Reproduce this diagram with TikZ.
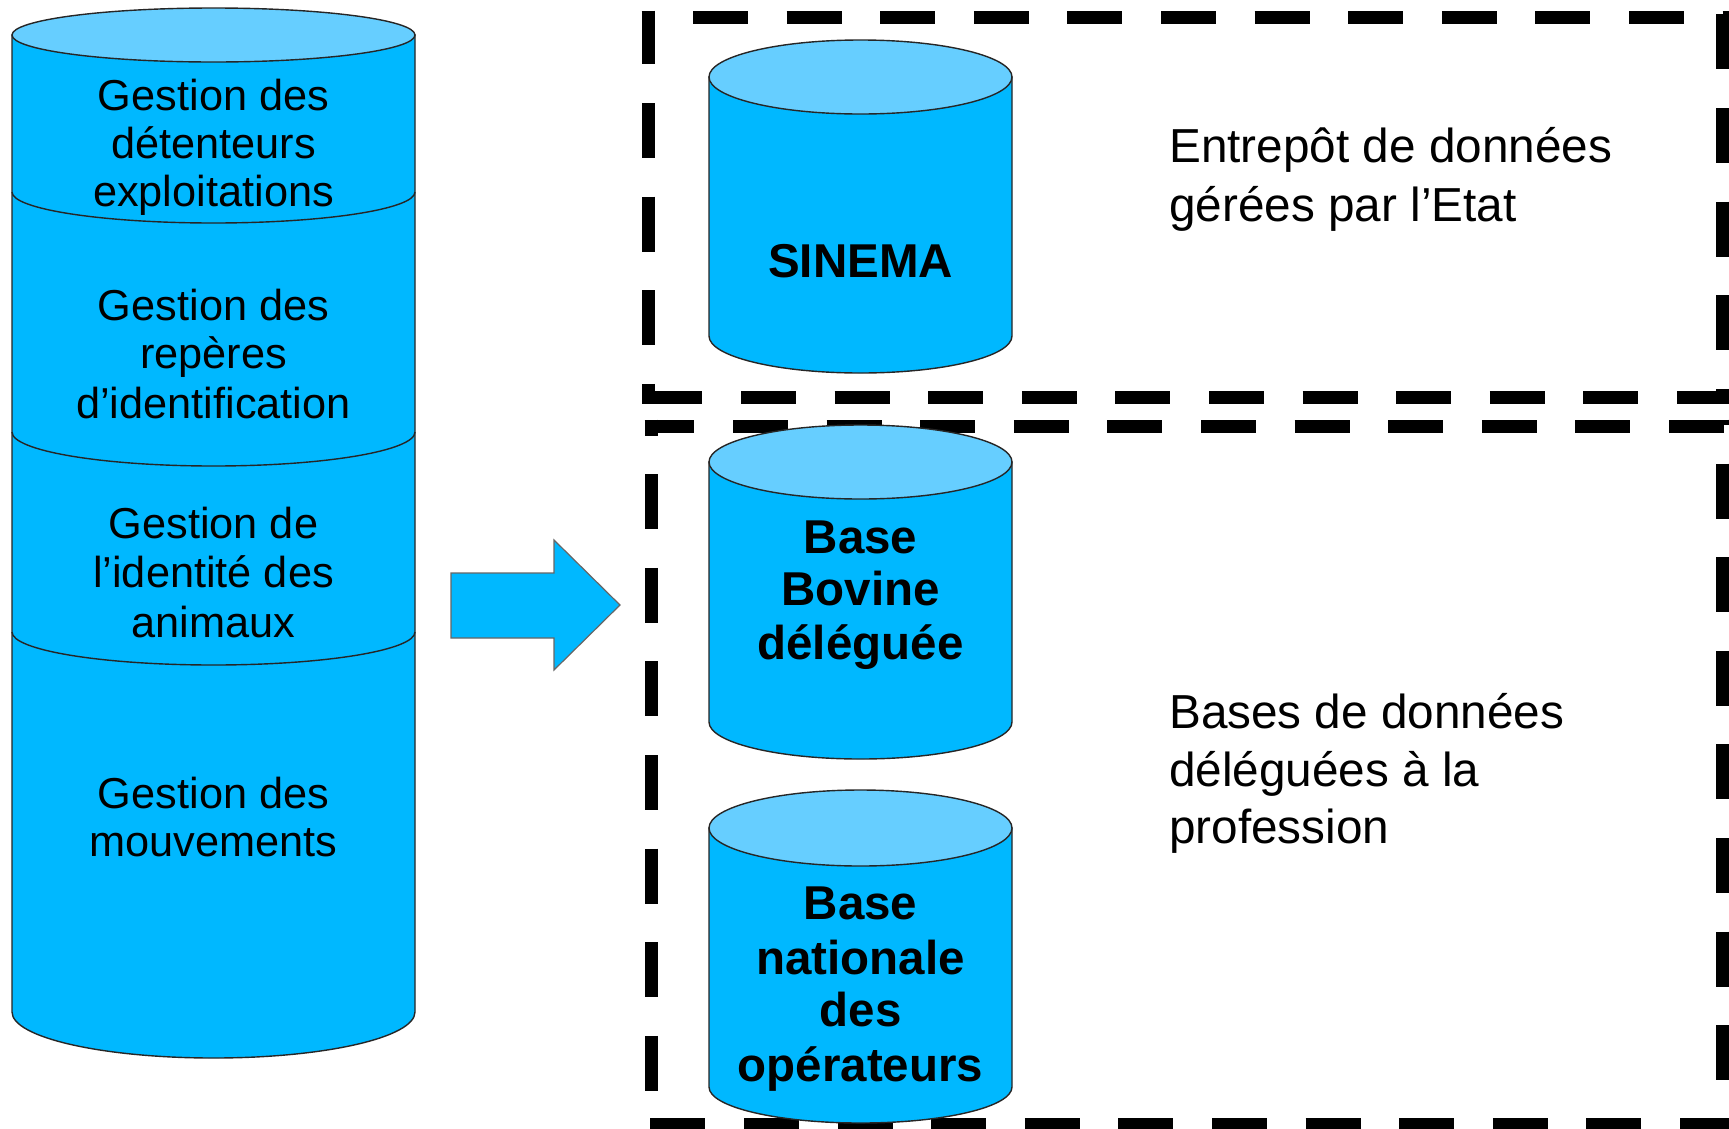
\documentclass[tikz,border=0pt]{standalone}
\usepackage{fontspec}
\setmainfont{Liberation Sans}
\definecolor{cylbody}{RGB}{0,184,255}
\definecolor{cyltop}{RGB}{102,206,255}
\tikzset{
  outl/.style={draw=black!85, line width=1.4pt},
  arrowoutl/.style={draw=black!60, line width=1.2pt},
  boxedge/.style={draw=black, line width=13pt, line cap=butt},
  lbl/.style={inner sep=0pt, anchor=base, font=\fontsize{43.3}{48}\selectfont},
  blbl/.style={inner sep=0pt, anchor=base, font=\fontsize{47.5}{53}\selectfont\bfseries},
  side/.style={inner sep=0pt, anchor=base west, font=\fontsize{47.7}{58}\selectfont},
}
% #1 x1, #2 x2, #3 centre y of top ellipse, #4 centre y of bottom ellipse, #5 ry top, #6 ry bottom
\newcommand{\mycyl}[6]{%
  \filldraw[outl, fill=cylbody] (#1,#3) -- (#1,#4)
    .. controls (#1,{#4+0.5523*#6}) and ({(#1+#2)/2-0.5523*(#2-#1)/2},{#4+#6}) .. ({(#1+#2)/2},{#4+#6})
    .. controls ({(#1+#2)/2+0.5523*(#2-#1)/2},{#4+#6}) and (#2,{#4+0.5523*#6}) .. (#2,#4)
    -- (#2,#3) -- cycle;
  \filldraw[outl, fill=cyltop] ({(#1+#2)/2},#3) ellipse [x radius={(#2-#1)/2}, y radius=#5];
}
% lower half-ellipse divider: #1 x1, #2 x2, #3 centre y, #4 ry
\newcommand{\mydiv}[4]{%
  \draw[outl] (#1,#3)
    .. controls (#1,{#3+0.5523*#4}) and ({(#1+#2)/2-0.5523*(#2-#1)/2},{#3+#4}) .. ({(#1+#2)/2},{#3+#4})
    .. controls ({(#1+#2)/2+0.5523*(#2-#1)/2},{#3+#4}) and (#2,{#3+0.5523*#4}) .. (#2,#3);
}
\begin{document}
\begin{tikzpicture}[x=1pt, y=-1pt]
\clip (0,0) rectangle (1729,1128);
\fill[white] (0,0) rectangle (1729,1128);

% dashed boxes (top box)
\draw[boxedge, dash pattern=on 55pt off 38.6pt, dash phase=42.1pt] (641.5,17) -- (1728.5,17);
\draw[boxedge, dash pattern=on 55pt off 38.6pt, dash phase=1.1pt] (648,10.5) -- (648,403.5);
\draw[boxedge, dash pattern=on 55pt off 38.6pt, dash phase=87.7pt] (641.5,397) -- (1728.5,397);
\draw[boxedge, dash pattern=on 55pt off 38.6pt, dash phase=89.7pt] (1722,10.5) -- (1722,403.5);
% dashed boxes (bottom box)
\draw[boxedge, dash pattern=on 55pt off 38.6pt, dash phase=5.1pt] (644.5,426) -- (1728.5,426);
\draw[boxedge, dash pattern=on 55pt off 38.6pt, dash phase=38.9pt] (651,419.5) -- (651,1130);
\draw[boxedge, dash pattern=on 55pt off 38.6pt, dash phase=87.7pt] (644.5,1124) -- (1728.5,1124);
\draw[boxedge, dash pattern=on 55pt off 38.6pt, dash phase=49.5pt] (1722,419.5) -- (1722,1130);

% left stacked cylinder
\mycyl{12}{415}{35}{1012}{27}{46}
\mydiv{12}{415}{192}{31}
\mydiv{12}{415}{432}{34}
\mydiv{12}{415}{632}{33}

% block arrow
\filldraw[arrowoutl, fill=cylbody] (451,573) -- (554,573) -- (554,540) -- (620,605)
  -- (554,670) -- (554,638) -- (451,638) -- cycle;

% right cylinders
\mycyl{709}{1012}{77}{336}{37}{37}
\mycyl{709}{1012}{462}{722}{37}{37}
\mycyl{709}{1012}{828}{1087}{38}{36}

% left texts
\node[lbl] (s1a) at (213.5,110) {Gestion des};
\node[lbl] (s1b) at (213.5,158) {détenteurs};
\node[lbl] (s1c) at (213.5,206) {exploitations};
\node[lbl] (s2a) at (213.5,320) {Gestion des};
\node[lbl] (s2b) at (213.5,368) {repères};
\node[lbl] (s2c) at (213.5,418) {d’identification};
\node[lbl] (s3a) at (213.5,538) {Gestion de};
\node[lbl] (s3b) at (213.5,587) {l’identité des};
\node[lbl] (s3c) at (213.5,637) {animaux};
\node[lbl] (s4a) at (213.5,808) {Gestion des};
\node[lbl] (s4b) at (213.5,856) {mouvements};

% cylinder labels
\node[blbl] (sinema) at (860.5,277) {SINEMA};
\node[blbl] (bb1) at (860.5,553) {Base};
\node[blbl] (bb2) at (860.5,605) {Bovine};
\node[blbl] (bb3) at (860.5,659) {déléguée};
\node[blbl] (bn1) at (860.5,919) {Base};
\node[blbl] (bn2) at (860.5,974) {nationale};
\node[blbl] (bn3) at (860.5,1026) {des};
\node[blbl] (bn4) at (860.5,1081) {opérateurs};

% side texts
\node[side] (e1) at (1169,162) {Entrepôt de données};
\node[side] (e2) at (1169,221) {gérées par l’Etat};
\node[side] (d1) at (1169,728) {Bases de données};
\node[side] (d2) at (1169,786) {déléguées à la};
\node[side] (d3) at (1169,843) {profession};
\end{tikzpicture}
\end{document}
